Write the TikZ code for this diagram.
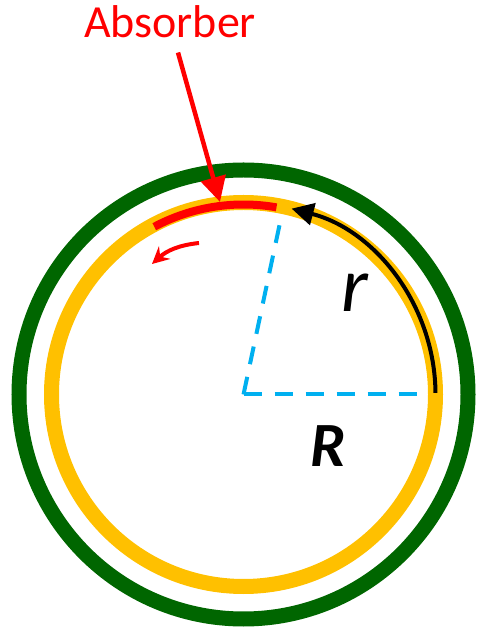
\documentclass[tikz,border=0pt]{standalone}
\usepackage{fontspec}
\setmainfont{Carlito}
\usepackage{xcolor}
\definecolor{wall}{HTML}{006600}
\definecolor{ring}{HTML}{FFC000}
\definecolor{absr}{HTML}{FF0000}
\definecolor{radc}{HTML}{00B0F0}
\usepackage{tikz}
\usetikzlibrary{arrows.meta,calc}
\tikzset{
  wallring/.style={draw=wall,line width=15pt},
  fuelring/.style={draw=ring,line width=15pt},
  radline/.style={draw=radc,line width=4pt,dash pattern=on 18pt off 13pt},
  absarc/.style={draw=absr,line width=8pt},
  arcarr/.style={-{Triangle[length=22pt,width=22pt]},draw=black,line width=4pt},
  bigarr/.style={-{Triangle[length=25pt,width=25pt]},draw=absr,line width=4.5pt},
  movarr/.style={-{Stealth[length=17pt,width=17pt,inset=6pt]},draw=absr,line width=4pt},
  lbl/.style={anchor=base,inner sep=0pt,text=absr,font=\fontsize{46}{55}\selectfont},
  sym/.style={anchor=base,inner sep=0pt},
}
\begin{document}
\begin{tikzpicture}[x=1pt,y=1pt]
\useasboundingbox (0,0) rectangle (478,629);
\coordinate (c) at (243.5,234.5);
% tube and ring
\draw[wallring] (c) circle[radius=224.5];
\draw[fuelring] (c) circle[radius=192];
% radii
\draw[radline] (c) -- ($(c)+(78:184)$);
\draw[radline] (c) -- ($(c)+(0:184)$);
% absorber segment and its motion
\draw[absarc] ($(c)+(80:190)$) arc[start angle=80,end angle=118,radius=190];
\draw[arcarr] ($(c)+(0.5:192)$) arc[start angle=0.5,end angle=75.5,radius=192];
\coordinate (mv0) at (199,386);
\coordinate (mv1) at (152,365);
\draw[movarr] (mv0) to[bend right=18] (mv1);
% labels
\node[lbl] (absorber) at (170,591) {Absorber};
\coordinate (abstip) at (220,427);
\draw[bigarr] ([xshift=8pt,yshift=-14pt]absorber.south) -- (abstip);
\node[sym,font=\fontsize{78}{90}\selectfont\itshape] (rlab) at (355,317) {r};
\node[sym,font=\fontsize{63}{72}\selectfont\bfseries\itshape] (Rlab) at (328,162) {R};
\end{tikzpicture}
\end{document}
